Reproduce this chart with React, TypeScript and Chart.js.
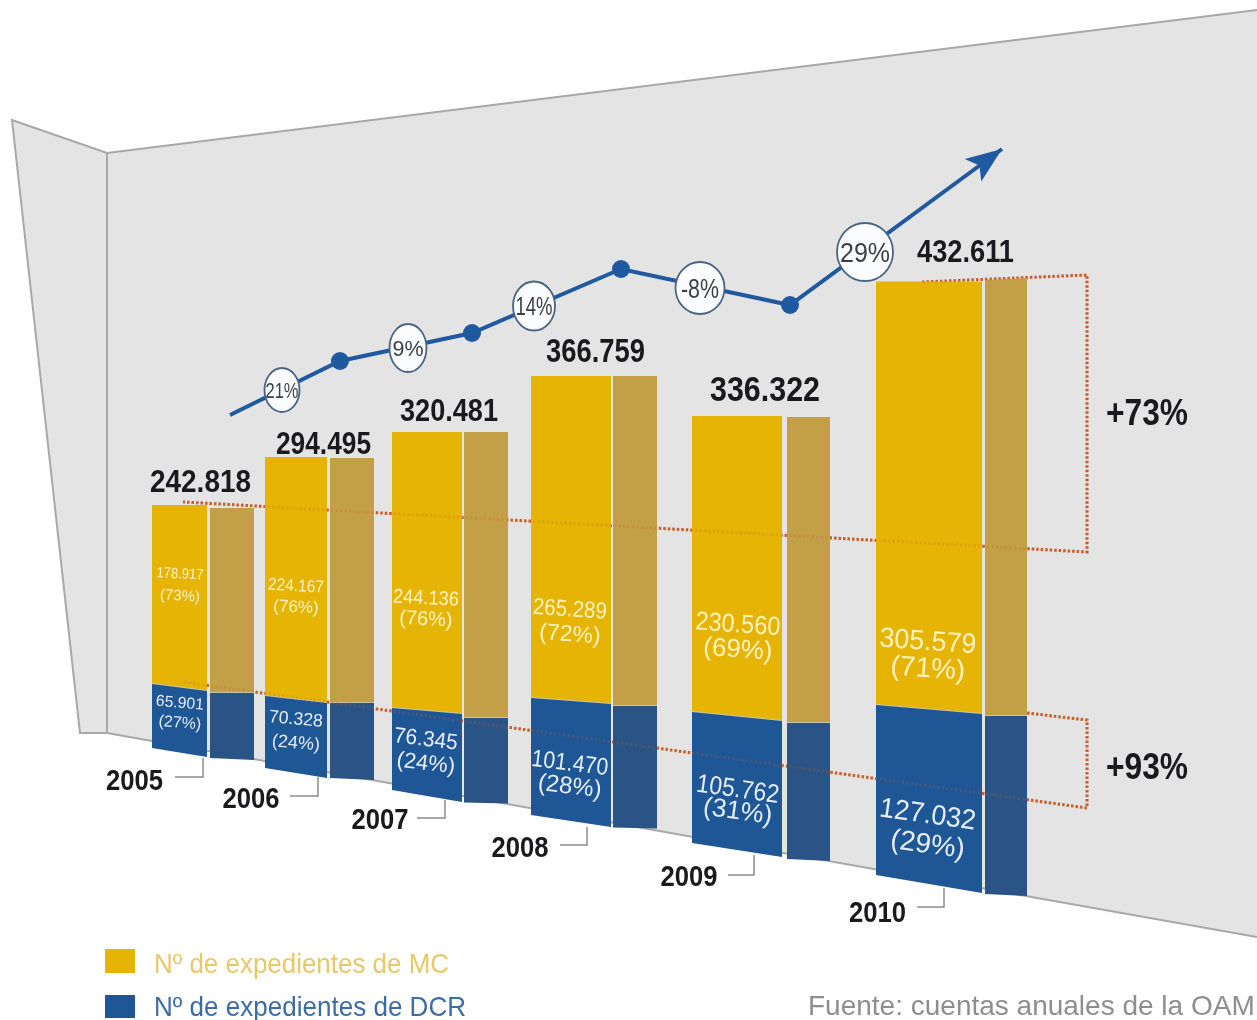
import React, { useEffect, useRef } from "react";
import { Chart, BarController, BarElement, registerables } from "chart.js";

// ---------- data ----------
const years = ["2005", "2006", "2007", "2008", "2009", "2010"];
const mcValues = [178917, 224167, 244136, 265289, 230560, 305579];
const dcrValues = [65901, 70328, 76345, 101470, 105762, 127032];
const totalLabels = ["242.818", "294.495", "320.481", "366.759", "336.322", "432.611"];
const mcLabels = ["178.917", "224.167", "244.136", "265.289", "230.560", "305.579"];
const dcrLabels = ["65.901", "70.328", "76.345", "101.470", "105.762", "127.032"];
const mcShares = ["(73%)", "(76%)", "(76%)", "(72%)", "(69%)", "(71%)"];
const dcrShares = ["(27%)", "(24%)", "(24%)", "(28%)", "(31%)", "(29%)"];
const trendX = [230, 340, 472, 621, 790, 1002];
const trendY = [415, 361, 333, 269, 305, 149];
const growthLabels = ["21%", "9%", "14%", "-8%", "29%"];
const legendLabels = ["Nº de expedientes de MC", "Nº de expedientes de DCR"];
const sourceLabel = "Fuente: cuentas anuales de la OAMI";

// ---------- perspective of the drawing ----------
const frontLeft = [152, 265, 392, 531, 692, 876];
const frontRight = [207, 327, 462, 611, 782, 982];
const sideLeft = [210, 330, 464, 613, 787, 985];
const sideRight = [254, 374, 508, 657, 830, 1027];
const frontFloor = [752.5, 773, 796, 821, 850, 884];
const sideFloor = [759, 779, 803, 828, 860, 895];
const frontDcrScale = [1.0015, 1.0593, 1.1265, 1.1925, 1.2717, 1.3815];
const frontMcScale = [1.0144, 1.0773, 1.1387, 1.2213, 1.299, 1.3974];
const sideDcrScale = [1.0167, 1.0949, 1.1265, 1.2122, 1.3048, 1.417];
const sideMcScale = [1.0284, 1.0885, 1.1674, 1.2402, 1.3229, 1.4268];
const frontMidSlant = [7, 7, 6, 6, 9, 9];
const frontBottomSlant = [9, 10, 12, 12, 14, 18];
const sideBottomSlant = [2, 2, 1, 1, 2, 2];
const noSlant = [0, 0, 0, 0, 0, 0];
const sideTopSlant = [0, 0, 0, 0, 0, -2];

const COLORS = {
  mc: "#E6B404",
  mcSide: "#C3A047",
  dcr: "#1F5695",
  dcrSide: "#2A5485",
  wall: "#E4E4E4",
  wallEdge: "#A8A8A8",
  trend: "#1F5AA0",
  dotted: "#C9602C",
};

// ---------- a bar whose top and bottom edges follow the perspective ----------
class SlantBar extends BarElement {
  static id = "slantBar";
  draw(ctx: CanvasRenderingContext2D) {
    const self = this as any;
    const { x, y, base, width } = self.getProps(["x", "y", "base", "width"]);
    const top = Math.min(y, base);
    const bottom = Math.max(y, base);
    const l = x - width / 2;
    const r = x + width / 2;
    const ts = self.topSlant || 0;
    const bs = self.bottomSlant || 0;
    ctx.save();
    ctx.fillStyle = self.options.backgroundColor;
    ctx.beginPath();
    ctx.moveTo(l, top - ts / 2);
    ctx.lineTo(r, top + ts / 2);
    ctx.lineTo(r, bottom + bs / 2);
    ctx.lineTo(l, bottom - bs / 2);
    ctx.closePath();
    ctx.fill();
    if (self.topEdge) {
      ctx.strokeStyle = self.topEdge;
      ctx.lineWidth = 2;
      ctx.beginPath();
      ctx.moveTo(l, top - ts / 2);
      ctx.lineTo(r, top + ts / 2);
      ctx.stroke();
    }
    ctx.restore();
  }
}

class SlantBarController extends BarController {
  static id = "slantBar";
  static defaults = { ...(BarController as any).defaults, dataElementType: "slantBar" };
  _calculateBarIndexPixels(index: number) {
    const ds: any = (this as any).getDataset();
    const sx = (this as any).chart.scales.xPx;
    const l = sx.getPixelForValue(ds.faceLeft[index]);
    const r = sx.getPixelForValue(ds.faceRight[index]);
    const size = r - l;
    return { size, head: l, center: (l + r) / 2 };
  }
  updateElements(rects: any[], start: number, count: number, mode: any) {
    (BarController.prototype as any).updateElements.call(this, rects, start, count, mode);
    const ds: any = (this as any).getDataset();
    for (let i = 0; i < count; i++) {
      const el = rects[start + i] || rects[i];
      el.topSlant = ds.topSlant[start + i];
      el.bottomSlant = ds.bottomSlant[start + i];
      el.topEdge = ds.topEdge;
    }
  }
}

Chart.register(...registerables, SlantBar as any, SlantBarController as any);

// ---------- annotations that sit around the marks ----------
const FONT = '"Liberation Sans", Arial, sans-serif';
const totalCenterX = [200.5, 323.5, 449, 595.5, 765, 965.5];
const totalCenterY = [481, 443, 410, 350, 388, 251];
const totalWidth = [101, 95, 98, 99, 110, 97];
const totalSize = [32, 31, 32, 33, 35, 32];
const labelX = [180, 296, 426, 570, 738, 928];
const mcLabelY = [573, 585, 597, 608, 623, 640];
const mcShareY = [595, 606, 618, 633, 648, 667];
const dcrLabelY = [702, 718, 738, 762, 788, 813];
const dcrShareY = [722, 742, 762, 785, 810, 843];
const mcLabelWidth = [47, 56, 66, 74, 85, 97];
const dcrLabelWidth = [48, 54, 64, 77, 83, 97];
const mcFontSize = [15, 17, 20, 23, 26, 28];
const dcrFontSize = [16, 18, 22, 24, 26, 28];
const mcRotation = [3, 3, 3, 4, 4, 4];
const dcrRotation = [5, 5, 7, 7, 8, 8];
const yearX = [134.5, 251, 380, 520, 689, 877.5];
const yearY = [780, 798, 819, 847, 876, 912];
const leaderLeft = [175, 290, 417, 560, 728, 917];
const leaderRight = [203, 318, 445, 587, 754, 944];
const leaderY = [777, 796, 818, 845, 875, 907];
const leaderTop = [758, 777, 800, 827, 855, 888];
const circleX = [282, 408, 534, 700, 865];
const circleY = [390, 348, 306, 288, 252];
const circleRx = [17.5, 18.5, 21, 24.5, 28];
const circleRy = [22, 24, 24.5, 26, 29];
const circleSize = [22, 22, 25, 27, 28];
const circleTextWidth = [33, 31, 37, 38, 50];

function text(
  ctx: CanvasRenderingContext2D,
  s: string,
  x: number,
  y: number,
  font: string,
  color: string,
  maxWidth?: number,
  deg = 0,
  align: CanvasTextAlign = "center"
) {
  const m = /([\d.]+)px/.exec(font);
  const size = m ? parseFloat(m[1]) : 16;
  ctx.save();
  ctx.translate(x, y);
  ctx.rotate((deg * Math.PI) / 180);
  ctx.font = font;
  ctx.fillStyle = color;
  ctx.textAlign = align;
  ctx.textBaseline = "alphabetic";
  const drop = size * 0.358;
  if (maxWidth) ctx.fillText(s, 0, drop, maxWidth);
  else ctx.fillText(s, 0, drop);
  ctx.restore();
}

function polyline(ctx: CanvasRenderingContext2D, pts: number[][]) {
  ctx.beginPath();
  pts.forEach((p, i) => (i ? ctx.lineTo(p[0], p[1]) : ctx.moveTo(p[0], p[1])));
}

function dotted(ctx: CanvasRenderingContext2D, alpha: number) {
  ctx.save();
  ctx.globalAlpha = alpha;
  ctx.strokeStyle = COLORS.dotted;
  ctx.lineWidth = 3;
  ctx.setLineDash([2.5, 2]);
  polyline(ctx, [[922, 282], [1087, 275], [1087, 552], [183, 502]]);
  ctx.stroke();
  polyline(ctx, [[1027, 713], [1087, 720], [1087, 808], [183, 682]]);
  ctx.stroke();
  ctx.restore();
}

const wallPlugin = {
  id: "wall",
  beforeDatasetsDraw(chart: any) {
    const ctx: CanvasRenderingContext2D = chart.ctx;
    ctx.save();
    ctx.fillStyle = COLORS.wall;
    ctx.strokeStyle = COLORS.wallEdge;
    ctx.lineWidth = 2;
    polyline(ctx, [[107, 153], [1257, 10], [1257, 937], [107, 733]]);
    ctx.closePath();
    ctx.fill();
    polyline(ctx, [[12, 120], [107, 153], [107, 733], [80, 733]]);
    ctx.closePath();
    ctx.fill();
    polyline(ctx, [[1257, 10], [107, 153], [12, 120], [80, 733], [107, 733], [1257, 937]]);
    ctx.stroke();
    polyline(ctx, [[107, 153], [107, 733]]);
    ctx.stroke();
    ctx.restore();
    dotted(ctx, 1);
  },
  afterDatasetsDraw(chart: any) {
    const ctx: CanvasRenderingContext2D = chart.ctx;
    dotted(ctx, 0.2);

    // arrow head of the trend line
    const meta = chart.getDatasetMeta(chart.data.datasets.length - 1);
    const pts = meta.data;
    const tip = pts[pts.length - 1];
    const prev = pts[pts.length - 2];
    const a = Math.atan2(tip.y - prev.y, tip.x - prev.x);
    const p = (d: number, w: number) => [
      tip.x + d * Math.cos(a) - w * Math.sin(a),
      tip.y + d * Math.sin(a) + w * Math.cos(a),
    ];
    ctx.save();
    ctx.fillStyle = COLORS.trend;
    polyline(ctx, [p(0, 0), p(-36, 14), p(-28, 0), p(-36, -14)]);
    ctx.closePath();
    ctx.fill();
    ctx.restore();

    // growth circles
    growthLabels.forEach((g, i) => {
      ctx.save();
      ctx.fillStyle = "#FBFCFE";
      ctx.strokeStyle = "#4A6484";
      ctx.lineWidth = 1.8;
      ctx.beginPath();
      ctx.ellipse(circleX[i], circleY[i], circleRx[i], circleRy[i], 0, 0, Math.PI * 2);
      ctx.fill();
      ctx.stroke();
      ctx.restore();
      text(ctx, g, circleX[i], circleY[i], `${circleSize[i]}px ${FONT}`, "#3A3F46", circleTextWidth[i]);
    });

    // labels on and around the bars
    years.forEach((y, i) => {
      text(ctx, totalLabels[i], totalCenterX[i], totalCenterY[i], `bold ${totalSize[i]}px ${FONT}`, "#1A1A1E", totalWidth[i]);
      const mf = `${mcFontSize[i]}px ${FONT}`;
      const df = `${dcrFontSize[i]}px ${FONT}`;
      text(ctx, mcLabels[i], labelX[i], mcLabelY[i], mf, "#FFF2C0", mcLabelWidth[i], mcRotation[i]);
      text(ctx, mcShares[i], labelX[i], mcShareY[i], mf, "#FFF2C0", undefined, mcRotation[i]);
      text(ctx, dcrLabels[i], labelX[i], dcrLabelY[i], df, "#E6EEF8", dcrLabelWidth[i], dcrRotation[i]);
      text(ctx, dcrShares[i], labelX[i], dcrShareY[i], df, "#E6EEF8", undefined, dcrRotation[i]);
      text(ctx, y, yearX[i], yearY[i], `bold 29px ${FONT}`, "#1A1A1E", 57);
      ctx.save();
      ctx.strokeStyle = "#8C8C8C";
      ctx.lineWidth = 1.5;
      polyline(ctx, [[leaderLeft[i], leaderY[i]], [leaderRight[i], leaderY[i]], [leaderRight[i], leaderTop[i]]]);
      ctx.stroke();
      ctx.restore();
    });

    text(ctx, "+73%", 1106, 412, `bold 37px ${FONT}`, "#1A1A1E", 82, 0, "left");
    text(ctx, "+93%", 1106, 766, `bold 37px ${FONT}`, "#1A1A1E", 82, 0, "left");

    // legend and source
    ctx.save();
    ctx.fillStyle = COLORS.mc;
    ctx.fillRect(105, 949, 30, 24);
    ctx.fillStyle = COLORS.dcr;
    ctx.fillRect(105, 995, 30, 23);
    ctx.restore();
    text(ctx, legendLabels[0], 154, 963, `28px ${FONT}`, "#E9C868", 295, 0, "left");
    text(ctx, legendLabels[1], 154, 1006, `28px ${FONT}`, "#3C6CA6", 312, 0, "left");
    text(ctx, sourceLabel, 808, 1005, `28px ${FONT}`, "#8E8E8E", undefined, 0, "left");
  },
};

function range(scale: number[], values: number[], floor: number[]) {
  return values.map((v, i) => [floor[i] - (v / 1000) * scale[i], floor[i]]);
}
function rangeAbove(upperScale: number[], upper: number[], lowerScale: number[], lower: number[], floor: number[]) {
  return upper.map((v, i) => {
    const b = floor[i] - (lower[i] / 1000) * lowerScale[i];
    return [b - (v / 1000) * upperScale[i], b];
  });
}

export default function App() {
  const ref = useRef<HTMLCanvasElement>(null);
  useEffect(() => {
    document.body.style.margin = "0";
    document.body.style.background = "#fff";
    const chart = new Chart(ref.current as HTMLCanvasElement, {
      type: "slantBar" as any,
      data: {
        labels: years,
        datasets: [
          {
            type: "slantBar",
            label: "MC",
            data: rangeAbove(frontMcScale, mcValues, frontDcrScale, dcrValues, frontFloor),
            backgroundColor: COLORS.mc,
            faceLeft: frontLeft,
            faceRight: frontRight,
            topSlant: noSlant,
            bottomSlant: frontMidSlant,
          },
          {
            type: "slantBar",
            label: "DCR",
            data: range(frontDcrScale, dcrValues, frontFloor),
            backgroundColor: COLORS.dcr,
            faceLeft: frontLeft,
            faceRight: frontRight,
            topSlant: frontMidSlant,
            bottomSlant: frontBottomSlant,
            topEdge: "#C8C6B0",
          },
          {
            type: "slantBar",
            label: "MC (lateral)",
            data: rangeAbove(sideMcScale, mcValues, sideDcrScale, dcrValues, sideFloor),
            backgroundColor: COLORS.mcSide,
            faceLeft: sideLeft,
            faceRight: sideRight,
            topSlant: sideTopSlant,
            bottomSlant: noSlant,
          },
          {
            type: "slantBar",
            label: "DCR (lateral)",
            data: range(sideDcrScale, dcrValues, sideFloor),
            backgroundColor: COLORS.dcrSide,
            faceLeft: sideLeft,
            faceRight: sideRight,
            topSlant: noSlant,
            bottomSlant: sideBottomSlant,
            topEdge: "#C8C6B0",
          },
          {
            type: "line",
            label: "Total",
            xAxisID: "xPx",
            data: trendX.map((x, i) => ({ x, y: trendY[i] })),
            borderColor: COLORS.trend,
            borderWidth: 4,
            backgroundColor: COLORS.trend,
            pointBackgroundColor: COLORS.trend,
            pointBorderWidth: 0,
            pointRadius: [0, 9, 9, 9, 9, 0],
            tension: 0,
          },
        ] as any,
      },
      options: {
        animation: false,
        responsive: false,
        layout: { padding: 0, autoPadding: false },
        plugins: { legend: { display: false }, tooltip: { enabled: false } },
        scales: {
          x: { type: "category", display: false },
          xPx: { type: "linear", display: false, min: 0, max: 1257, offset: false, grid: { offset: false } },
          y: { type: "linear", display: false, min: 0, max: 1020, reverse: true },
        },
      } as any,
      plugins: [wallPlugin as any],
    });
    return () => chart.destroy();
  }, []);
  return (
    <div style={{ position: "absolute", left: 0, top: 0, width: 1257, height: 1020, overflow: "hidden", background: "#fff" }}>
      <canvas ref={ref} width={1257} height={1020} style={{ display: "block", filter: "blur(0.5px)" }} />
    </div>
  );
}
